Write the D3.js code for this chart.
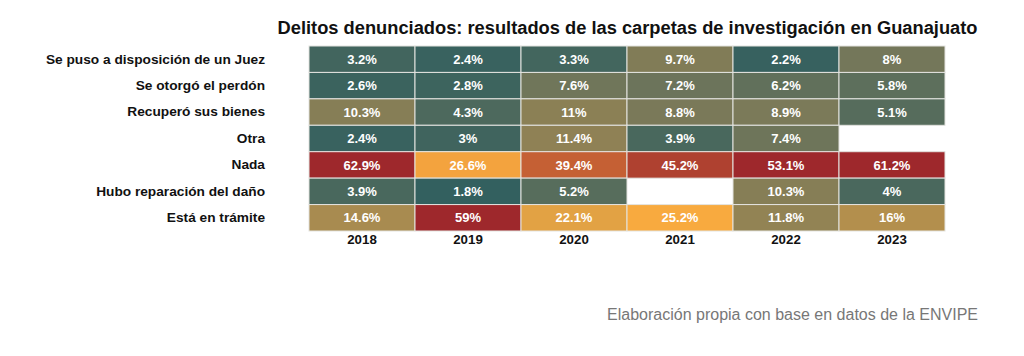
<!DOCTYPE html>
<html><head><meta charset="utf-8">
<script src="https://cdn.jsdelivr.net/npm/d3@7"></script>
<style>
html,body{margin:0;padding:0;background:#fff;}
text{font-family:"Liberation Sans",Arial,sans-serif;}
</style></head>
<body><svg id="c" width="1024" height="356"></svg>
<script>
const years = ["2018","2019","2020","2021","2022","2023"];
const categories = ["Se puso a disposición de un Juez","Se otorgó el perdón","Recuperó sus bienes","Otra","Nada","Hubo reparación del daño","Está en trámite"];
const vJuez     = [3.2, 2.4, 3.3, 9.7, 2.2, 8];
const vPerdon   = [2.6, 2.8, 7.6, 7.2, 6.2, 5.8];
const vBienes   = [10.3, 4.3, 11, 8.8, 8.9, 5.1];
const vOtra     = [2.4, 3, 11.4, 3.9, 7.4, null];
const vNada     = [62.9, 26.6, 39.4, 45.2, 53.1, 61.2];
const vRepar    = [3.9, 1.8, 5.2, null, 10.3, 4];
const vTramite  = [14.6, 59, 22.1, 25.2, 11.8, 16];
const seriesValues = [vJuez, vPerdon, vBienes, vOtra, vNada, vRepar, vTramite];
const colorStops = [1.8, 8, 25, 50];
const colorRange = ["#33605f", "#74775a", "#f9ab3f", "#9e282c"];
const title = "Delitos denunciados: resultados de las carpetas de investigación en Guanajuato";
const credit = "Elaboración propia con base en datos de la ENVIPE";

const cells = [];
categories.forEach((c, i) => years.forEach((y, j) => {
  const v = seriesValues[i][j];
  if (v !== null) cells.push({cat: c, year: y, value: v});
}));

const svg = d3.select("#c");
const x = d3.scaleBand().domain(years).range([309, 945]).padding(0);
const y = d3.scaleBand().domain(categories).range([46, 231]).padding(0);
const color = d3.scaleLinear().domain(colorStops).range(colorRange).clamp(true).interpolate(d3.interpolateRgb);

svg.append("g").selectAll("rect").data(cells).join("rect")
  .attr("x", d => x(d.year)).attr("y", d => y(d.cat))
  .attr("width", x.bandwidth()).attr("height", y.bandwidth())
  .attr("fill", d => color(d.value))
  .attr("stroke", "#e4e4e0").attr("stroke-width", 1);

svg.append("g").selectAll("text").data(cells).join("text")
  .attr("x", d => x(d.year) + x.bandwidth()/2)
  .attr("y", d => y(d.cat) + y.bandwidth()/2)
  .attr("dy", "0.36em").attr("text-anchor", "middle")
  .attr("fill", "#ffffff").attr("font-weight", "bold").attr("font-size", 13)
  .text(d => d.value + "%");

const xAxis = svg.append("g").attr("transform", "translate(0,231)")
  .call(d3.axisBottom(x).tickSize(0).tickPadding(4));
xAxis.select(".domain").remove();
xAxis.selectAll("text").attr("font-size", 13.3).attr("font-weight", "bold").attr("fill", "#111")
  .attr("font-family", "Liberation Sans, Arial, sans-serif");

const yAxis = svg.append("g").attr("transform", "translate(265,0)")
  .call(d3.axisLeft(y).tickSize(0).tickPadding(0));
yAxis.select(".domain").remove();
yAxis.selectAll("text").attr("font-size", 13.7).attr("font-weight", "bold").attr("fill", "#111")
  .attr("font-family", "Liberation Sans, Arial, sans-serif");

svg.append("text").attr("x", 627.5).attr("y", 34).attr("text-anchor", "middle")
  .attr("font-size", 18.3).attr("font-weight", "bold").attr("fill", "#111").text(title);

svg.append("text").attr("x", 978).attr("y", 320).attr("text-anchor", "end")
  .attr("font-size", 16).attr("fill", "#777").text(credit);
</script></body></html>
